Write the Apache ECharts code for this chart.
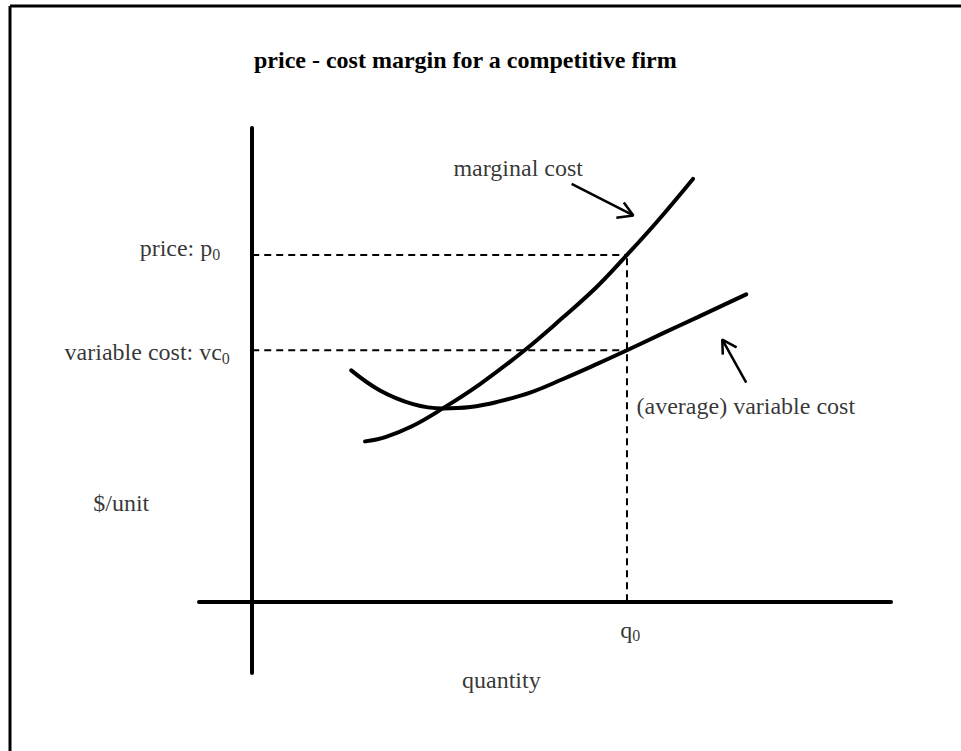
<!DOCTYPE html>
<html>
<head>
<meta charset="utf-8">
<title>price - cost margin</title>
<script src="https://cdn.jsdelivr.net/npm/echarts@6/dist/echarts.min.js"></script>
<style>
  html, body { margin: 0; padding: 0; background: #fff; }
  #chart { width: 961px; height: 751px; }
</style>
</head>
<body>
<div id="chart"></div>
<script>
// curves (quantity, $/unit)
const mcQ = [10.6, 12.5, 15.0, 17.9, 21.4, 25.5, 29.2, 32.4, 35.2, 38.0, 41.4];
const mcCost = [22.3, 22.9, 24.4, 26.9, 30.3, 34.9, 39.6, 43.9, 48.3, 52.9, 58.9];
const avcQ = [9.3, 12.0, 15.1, 17.9, 20.5, 23.0, 26.1, 29.2, 32.4, 35.2, 38.6, 41.8, 46.4];
const avcCost = [32.2, 29.4, 27.5, 26.9, 27.1, 27.8, 29.1, 31.0, 33.1, 35.0, 37.4, 39.6, 42.8];

// reference levels
const q0 = 35.2;
const p0 = 48.3;
const vc0 = 35.0;

// arrows: shaft [tail, tip], head [arm, tip, arm]
const mcArrowShaft = [[30.0, 58.2], [35.8, 53.8]];
const mcArrowHead = [[34.9, 55.6], [35.8, 53.8], [34.2, 53.5]];
const avcArrowShaft = [[46.4, 30.5], [44.15, 36.5]];
const avcArrowHead = [[45.5, 35.4], [44.15, 36.5], [44.2, 34.4]];

// text labels: [q, cost, text, side]
const labels = [
  [18.9, 60.4, '{t|marginal cost}', 'right'],
  [-3.0, 49.2, '{t|price: p}{s|0}', 'left'],
  [-2.1, 34.7, '{t|variable cost: vc}{s|0}', 'left'],
  [36.1, 27.2, '{t|(average) variable cost}', 'right'],
  [-12.3, 13.7, '{t|$/unit}', 'inside'],
  [35.5, -4.0, '{t|q}{s|0}', 'inside'],
  [23.4, -11.0, '{t|quantity}', 'inside']
];

const zip = (a, b) => a.map((v, i) => [v, b[i]]);

const serif = '"Liberation Serif", "DejaVu Serif", serif';
const solid = { color: '#000', width: 4, cap: 'round' };
const dashed = { color: '#000', width: 2, type: [7, 5] };
const thin = { color: '#000', width: 2.5 };

const lineSeries = (data, style, smooth) => ({
  type: 'line',
  data: data,
  smooth: smooth || false,
  symbol: 'none',
  silent: true,
  clip: false,
  lineStyle: style
});

const chart = echarts.init(document.getElementById('chart'), null, { renderer: 'svg' });

chart.setOption({
  backgroundColor: '#fff',
  animation: false,
  title: {
    text: 'price - cost margin for a competitive firm',
    left: 254,
    top: 48,
    padding: 0,
    textStyle: { fontFamily: serif, fontSize: 24, fontWeight: 'bold', color: '#000' }
  },
  graphic: [
    { type: 'line', shape: { x1: 10, y1: 6, x2: 961, y2: 6 }, style: { stroke: '#000', lineWidth: 3 } },
    { type: 'line', shape: { x1: 10, y1: 6, x2: 10, y2: 751 }, style: { stroke: '#000', lineWidth: 3 } }
  ],
  grid: { left: 199, right: 70, top: 128, bottom: 78 },
  xAxis: {
    type: 'value', min: -5, max: 60,
    axisLine: { onZero: true, lineStyle: { color: '#000', width: 4 } },
    axisTick: { show: false }, axisLabel: { show: false }, splitLine: { show: false }
  },
  yAxis: {
    type: 'value', min: -10, max: 66,
    axisLine: { show: true, onZero: true, lineStyle: { color: '#000', width: 4 } },
    axisTick: { show: false }, axisLabel: { show: false }, splitLine: { show: false }
  },
  series: [
    lineSeries([[0, p0], [q0, p0]], dashed),
    lineSeries([[0, vc0], [q0, vc0]], dashed),
    lineSeries([[q0, 0], [q0, p0]], dashed),
    lineSeries(zip(mcQ, mcCost), solid, 0.4),
    lineSeries(zip(avcQ, avcCost), solid, 0.4),
    lineSeries(mcArrowShaft, thin),
    lineSeries(mcArrowHead, thin),
    lineSeries(avcArrowShaft, thin),
    lineSeries(avcArrowHead, thin),
    {
      type: 'scatter',
      symbolSize: 0,
      silent: true,
      clip: false,
      data: labels.map(l => ({
        value: [l[0], l[1]],
        label: { position: l[3] }
      })),
      label: {
        show: true,
        distance: 0,
        color: '#000',
        formatter: p => labels[p.dataIndex][2],
        rich: {
          t: { fontFamily: serif, fontSize: 24, color: '#000', lineHeight: 28 },
          s: { fontFamily: serif, fontSize: 16, color: '#000', lineHeight: 16, verticalAlign: 'bottom' }
        }
      }
    }
  ]
});
</script>
</body>
</html>
